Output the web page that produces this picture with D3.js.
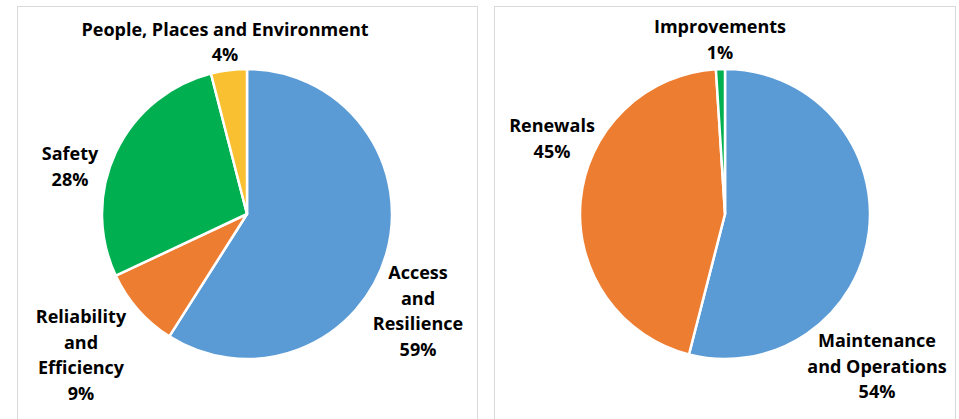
<!DOCTYPE html>
<html><head><meta charset="utf-8">
<script src="https://cdn.jsdelivr.net/npm/d3@7"></script>
<style>body{margin:0;background:#fff;} svg{display:block;}</style>
</head><body>
<svg id="c" width="959" height="419"></svg>
<script>
// Left chart: Strategic objectives
const leftCategories = ["Access and Resilience", "Reliability and Efficiency", "Safety", "People, Places and Environment"];
const leftValues = [59, 9, 28, 4];
const leftColors = ["#5B9BD5", "#ED7D31", "#00B050", "#F9C132"];
const leftLabelLines = [["Access", "and", "Resilience", "59%"], ["Reliability", "and", "Efficiency", "9%"], ["Safety", "28%"], ["People, Places and Environment", "4%"]];

// Right chart: Work type
const rightCategories = ["Maintenance and Operations", "Renewals", "Improvements"];
const rightValues = [54, 45, 1];
const rightColors = ["#5B9BD5", "#ED7D31", "#00B050"];
const rightLabelLines = [["Maintenance", "and Operations", "54%"], ["Renewals", "45%"], ["Improvements", "1%"]];

const svg = d3.select("#c");
const font = "'Open Sans', Lato, sans-serif";

function panel(x0, x1, cx, cy, r, values, colors, lines, labelPos) {
  svg.append("rect").attr("x", x0 + 0.5).attr("y", 6.5).attr("width", x1 - x0).attr("height", 430)
    .attr("fill", "#fff").attr("stroke", "#D9D9D9").attr("stroke-width", 1);
  const pie = d3.pie().sort(null).value(d => d)(values);
  const arc = d3.arc().innerRadius(0).outerRadius(r);
  const g = svg.append("g").attr("transform", `translate(${cx},${cy})`);
  g.selectAll("path").data(pie).join("path")
    .attr("d", arc).attr("fill", (d, i) => colors[i])
    .attr("stroke", "#fff").attr("stroke-width", 2.5).attr("stroke-linejoin", "round");
  lines.forEach((ls, i) => {
    const t = svg.append("text").attr("x", labelPos[i][0]).attr("y", labelPos[i][1])
      .attr("text-anchor", "middle").attr("font-family", font).attr("font-weight", "bold")
      .attr("font-size", 18).attr("fill", "#000");
    ls.forEach((s, j) => t.append("tspan").attr("x", labelPos[i][0]).attr("dy", j === 0 ? 0 : 25.6).text(s));
  });
}

panel(17, 477, 247, 214, 145, leftValues, leftColors, leftLabelLines,
  [[418, 279], [81, 323], [70, 160], [225, 35.5]]);
panel(494, 955, 725, 214, 145, rightValues, rightColors, rightLabelLines,
  [[877, 347], [552, 132], [720, 33]]);
</script>
</body></html>
